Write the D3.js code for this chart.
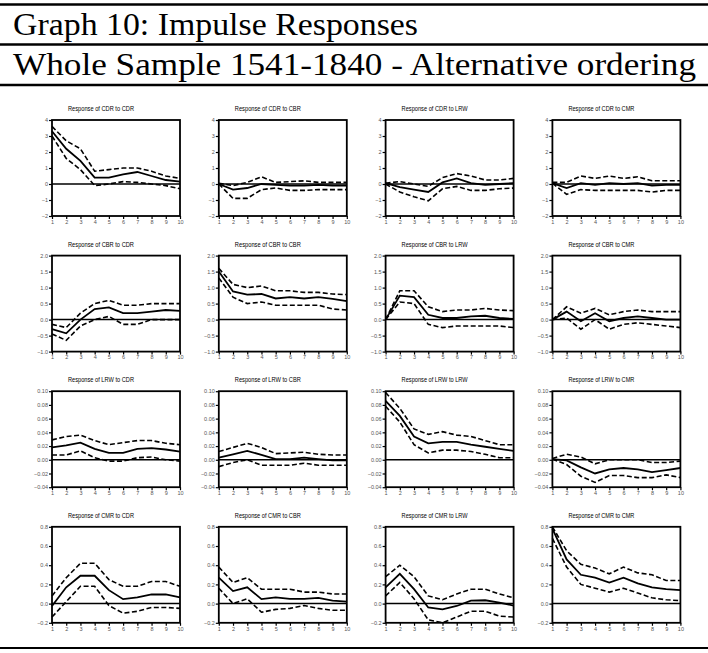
<!DOCTYPE html>
<html>
<head>
<meta charset="utf-8">
<script src="https://cdn.jsdelivr.net/npm/d3@7"></script>
<style>
  body { margin: 0; background: #fff; }
  svg { display: block; }
</style>
</head>
<body>
<div id="chart"></div>
<script>
// responses (rows) and shocks (columns)
var responses = ["CDR", "CBR", "LRW", "CMR"];
var shocks = ["CDR", "CBR", "LRW", "CMR"];
var periods = [1, 2, 3, 4, 5, 6, 7, 8, 9, 10];

// y range and tick labels per response variable
var yDomains = [[-2, 4], [-1, 2], [-0.04, 0.10], [-0.2, 0.8]];
var yTicks = [
  [-2, -1, 0, 1, 2, 3, 4],
  [-1, -0.5, 0, 0.5, 1, 1.5, 2],
  [-0.04, -0.02, 0, 0.02, 0.04, 0.06, 0.08, 0.10],
  [-0.2, 0, 0.2, 0.4, 0.6, 0.8]
];
var yFormats = ["d", ".1f", ".2f", ".1f"];

// Response of CDR to CDR, CBR, LRW, CMR
var cdrMid = [
  [3.3, 2.2, 1.45, 0.4, 0.4, 0.6, 0.75, 0.5, 0.25, 0.15],
  [0.0, -0.35, -0.25, 0.0, -0.05, -0.1, -0.1, -0.05, -0.1, -0.1],
  [0.05, -0.2, -0.35, -0.5, 0.1, 0.35, 0.05, -0.05, 0.0, 0.05],
  [0.05, -0.25, 0.05, -0.05, 0.05, 0.0, 0.05, -0.1, -0.05, -0.05]
];
var cdrUp = [
  [3.6, 2.7, 2.2, 0.8, 0.9, 1.0, 1.0, 0.8, 0.5, 0.35],
  [0.05, -0.1, 0.1, 0.45, 0.1, 0.15, 0.2, 0.1, 0.1, 0.1],
  [0.05, 0.15, 0.0, -0.15, 0.4, 0.65, 0.5, 0.25, 0.25, 0.35],
  [0.1, 0.1, 0.5, 0.35, 0.5, 0.35, 0.45, 0.2, 0.2, 0.2]
];
var cdrLo = [
  [3.0, 1.6, 0.9, -0.1, 0.0, 0.15, 0.1, 0.0, -0.1, -0.3],
  [0.0, -0.9, -0.9, -0.35, -0.25, -0.4, -0.4, -0.35, -0.35, -0.35],
  [0.0, -0.5, -0.8, -1.05, -0.3, -0.15, -0.4, -0.4, -0.3, -0.25],
  [0.05, -0.65, -0.35, -0.4, -0.4, -0.4, -0.4, -0.5, -0.4, -0.4]
];

// Response of CBR
var cbrMid = [
  [-0.3, -0.43, 0.0, 0.33, 0.38, 0.2, 0.2, 0.25, 0.3, 0.27],
  [1.5, 0.88, 0.78, 0.8, 0.66, 0.7, 0.66, 0.7, 0.65, 0.58],
  [0.0, 0.75, 0.7, 0.15, 0.05, 0.05, 0.1, 0.12, 0.05, 0.02],
  [0.0, 0.25, -0.05, 0.2, -0.05, 0.05, 0.1, 0.05, 0.0, 0.0]
];
var cbrUp = [
  [-0.15, -0.25, 0.2, 0.5, 0.6, 0.45, 0.45, 0.5, 0.5, 0.5],
  [1.6, 1.1, 1.0, 1.05, 0.9, 0.9, 0.85, 0.85, 0.8, 0.78],
  [0.0, 0.9, 0.9, 0.4, 0.25, 0.3, 0.3, 0.35, 0.3, 0.28],
  [0.0, 0.4, 0.2, 0.35, 0.15, 0.25, 0.3, 0.25, 0.25, 0.25]
];
var cbrLo = [
  [-0.45, -0.65, -0.2, 0.0, 0.1, -0.15, -0.15, 0.0, 0.0, 0.0],
  [1.3, 0.7, 0.5, 0.55, 0.45, 0.45, 0.45, 0.45, 0.33, 0.3],
  [0.0, 0.55, 0.5, -0.15, -0.25, -0.2, -0.2, -0.2, -0.2, -0.25],
  [0.0, 0.05, -0.3, 0.0, -0.3, -0.15, -0.1, -0.15, -0.2, -0.25]
];

// Response of LRW
var lrwMid = [
  [0.018, 0.021, 0.025, 0.016, 0.010, 0.010, 0.016, 0.017, 0.015, 0.012],
  [0.003, 0.008, 0.013, 0.007, 0.001, 0.001, 0.003, 0.001, -0.001, -0.001],
  [0.086, 0.064, 0.034, 0.024, 0.026, 0.026, 0.022, 0.019, 0.016, 0.013],
  [0.001, -0.001, -0.011, -0.020, -0.014, -0.012, -0.014, -0.018, -0.015, -0.012]
];
var lrwUp = [
  [0.029, 0.034, 0.036, 0.028, 0.022, 0.025, 0.028, 0.028, 0.024, 0.022],
  [0.012, 0.018, 0.024, 0.018, 0.009, 0.010, 0.011, 0.008, 0.007, 0.007],
  [0.098, 0.075, 0.045, 0.037, 0.041, 0.036, 0.034, 0.028, 0.022, 0.022],
  [0.002, 0.008, 0.004, -0.006, 0.000, 0.000, 0.000, -0.004, -0.004, -0.002]
];
var lrwLo = [
  [0.007, 0.007, 0.013, 0.003, -0.002, -0.002, 0.003, 0.004, 0.000, -0.002],
  [-0.010, -0.004, 0.000, -0.008, -0.008, -0.008, -0.005, -0.008, -0.008, -0.008],
  [0.078, 0.055, 0.022, 0.010, 0.014, 0.014, 0.012, 0.008, 0.003, 0.003],
  [0.001, -0.007, -0.024, -0.033, -0.023, -0.023, -0.026, -0.026, -0.022, -0.026]
];

// Response of CMR
var cmrMid = [
  [-0.025, 0.17, 0.29, 0.29, 0.14, 0.046, 0.064, 0.095, 0.095, 0.064],
  [0.27, 0.13, 0.17, 0.046, 0.064, 0.05, 0.05, 0.06, 0.03, 0.02],
  [0.17, 0.31, 0.15, -0.04, -0.06, -0.025, 0.03, 0.035, 0.01, -0.02],
  [0.78, 0.46, 0.30, 0.27, 0.22, 0.27, 0.21, 0.17, 0.15, 0.14]
];
var cmrUp = [
  [0.08, 0.27, 0.42, 0.42, 0.25, 0.18, 0.18, 0.23, 0.23, 0.18],
  [0.38, 0.22, 0.27, 0.15, 0.15, 0.15, 0.12, 0.12, 0.10, 0.10],
  [0.28, 0.40, 0.28, 0.08, 0.04, 0.10, 0.15, 0.15, 0.10, 0.06],
  [0.80, 0.55, 0.41, 0.37, 0.31, 0.38, 0.32, 0.30, 0.24, 0.24]
];
var cmrLo = [
  [-0.14, 0.02, 0.18, 0.18, -0.02, -0.10, -0.08, -0.04, -0.04, -0.05],
  [0.16, 0.00, 0.05, -0.09, -0.06, -0.05, -0.02, -0.05, -0.07, -0.07],
  [0.08, 0.22, 0.05, -0.17, -0.20, -0.14, -0.08, -0.08, -0.13, -0.14],
  [0.68, 0.38, 0.20, 0.16, 0.12, 0.16, 0.11, 0.06, 0.04, 0.03]
];

var midRows = [cdrMid, cbrMid, lrwMid, cmrMid];
var upRows = [cdrUp, cbrUp, lrwUp, cmrUp];
var loRows = [cdrLo, cbrLo, lrwLo, cmrLo];

var titleLines = ["Graph 10: Impulse Responses", "Whole Sample 1541-1840 - Alternative ordering"];

var width = 708, height = 653;

var svg = d3.select("#chart").append("svg")
  .attr("width", width)
  .attr("height", height);

// header rules and titles
[4.5, 44.5, 85].forEach(function(y) {
  svg.append("line")
    .attr("x1", 0).attr("x2", width)
    .attr("y1", y).attr("y2", y)
    .attr("stroke", "#000")
    .attr("stroke-width", 2.6);
});
svg.append("line")
  .attr("x1", 0).attr("x2", width)
  .attr("y1", 648).attr("y2", 648)
  .attr("stroke", "#000")
  .attr("stroke-width", 2);

svg.selectAll("text.head")
  .data(titleLines)
  .enter()
  .append("text")
  .attr("class", "head")
  .attr("x", 13)
  .attr("y", function(d, i) { return 35 + i * 40; })
  .attr("textLength", function(d, i) { return i === 0 ? 405 : 683; })
  .attr("lengthAdjust", "spacingAndGlyphs")
  .attr("font-family", "'Liberation Serif', serif")
  .attr("font-size", "31px")
  .attr("fill", "#000")
  .text(function(d) { return d; });

// panel grid
var boxW = 128, boxH = 96;
var colLeft = function(c) { return 52 + c * 166.8; };
var rowTop = function(r) { return 120 + r * 135.6; };

var x = d3.scaleLinear().domain([1, 10]).range([0, boxW]);

responses.forEach(function(resp, r) {
  var y = d3.scaleLinear().domain(yDomains[r]).range([boxH, 0]);
  var line = d3.line()
    .x(function(d, i) { return x(periods[i]); })
    .y(function(d) { return y(d); });

  shocks.forEach(function(shock, c) {
    var g = svg.append("g")
      .attr("transform", "translate(" + colLeft(c) + "," + rowTop(r) + ")");

    // title sits over the whole graph frame (axis labels included), so a bit left of the box centre
    g.append("text")
      .attr("x", boxW / 2 - 15)
      .attr("y", -9)
      .attr("text-anchor", "middle")
      .attr("textLength", 66)
      .attr("lengthAdjust", "spacingAndGlyphs")
      .attr("font-family", "'Liberation Sans', Arial, sans-serif")
      .attr("font-size", "8px")
      .attr("fill", "#000")
      .text("Response of " + resp + " to " + shock);

    var yAxis = g.append("g")
      .call(d3.axisLeft(y).tickValues(yTicks[r]).tickSize(3).tickPadding(1)
        .tickFormat(d3.format(yFormats[r])));
    var xAxis = g.append("g")
      .attr("transform", "translate(0," + boxH + ")")
      .call(d3.axisBottom(x).tickValues(periods).tickSize(3).tickPadding(1)
        .tickFormat(d3.format("d")));
    [yAxis, xAxis].forEach(function(a) {
      a.select(".domain").remove();
      a.selectAll(".tick line").attr("stroke", "#000").attr("stroke-width", 1.2);
      a.selectAll(".tick text")
        .attr("font-family", "'Liberation Sans', Arial, sans-serif")
        .attr("font-size", "5.5px")
        .attr("fill", "#555");
    });

    // zero line
    g.append("line")
      .attr("x1", 0).attr("x2", boxW)
      .attr("y1", y(0)).attr("y2", y(0))
      .attr("stroke", "#000")
      .attr("stroke-width", 1.5);

    g.append("path")
      .attr("d", line(upRows[r][c]))
      .attr("fill", "none")
      .attr("stroke", "#000")
      .attr("stroke-width", 1.6)
      .attr("stroke-dasharray", "5,2.5");
    g.append("path")
      .attr("d", line(loRows[r][c]))
      .attr("fill", "none")
      .attr("stroke", "#000")
      .attr("stroke-width", 1.6)
      .attr("stroke-dasharray", "5,2.5");
    g.append("path")
      .attr("d", line(midRows[r][c]))
      .attr("fill", "none")
      .attr("stroke", "#000")
      .attr("stroke-width", 1.8);

    g.append("rect")
      .attr("width", boxW)
      .attr("height", boxH)
      .attr("fill", "none")
      .attr("stroke", "#000")
      .attr("stroke-width", 1.8);
  });
});
</script>
</body>
</html>
